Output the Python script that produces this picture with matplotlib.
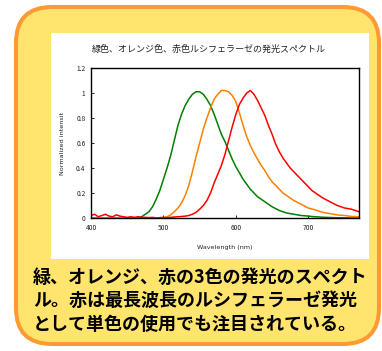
import matplotlib
matplotlib.use("Agg")
import matplotlib.pyplot as plt
from matplotlib.patches import FancyBboxPatch, Rectangle

plt.rcParams['font.family'] = ['Noto Sans CJK JP', 'DejaVu Sans']

# data (5 nm steps, 400-770 nm)
wavelength = list(range(400, 775, 5))
green = [0] * 14 + [
    0.01, 0.03, 0.05, 0.09, 0.15, 0.22, 0.31, 0.40, 0.50, 0.62,
    0.74, 0.83, 0.90, 0.95, 0.99, 1.01, 1.01, 0.99, 0.95, 0.90,
    0.83, 0.75, 0.67, 0.61, 0.54, 0.47, 0.41, 0.36, 0.31, 0.27,
    0.23, 0.20, 0.17, 0.15, 0.13, 0.11, 0.09, 0.075, 0.06, 0.05,
    0.04, 0.035, 0.03, 0.025, 0.02, 0.018, 0.015, 0.012, 0.01, 0.008,
    0.006, 0.005, 0.004, 0.003, 0.002, 0.002, 0.001, 0.001, 0, 0, 0]
orange = [0] * 21 + [
    0.01, 0.025, 0.05, 0.08, 0.12, 0.18, 0.26, 0.37, 0.49, 0.60,
    0.71, 0.80, 0.88, 0.95, 0.99, 1.02, 1.02, 1.01, 0.98, 0.93,
    0.84, 0.74, 0.65, 0.58, 0.52, 0.47, 0.42, 0.38, 0.33, 0.29,
    0.26, 0.23, 0.20, 0.18, 0.16, 0.14, 0.125, 0.11, 0.095, 0.08,
    0.072, 0.064, 0.055, 0.045, 0.04, 0.035, 0.03, 0.025, 0.022, 0.02,
    0.016, 0.012, 0.011, 0.01]
red = [0.02, 0.03, 0.01, 0.02, 0.03, 0.015, 0.01, 0.025, 0.015, 0.01,
       0.005, 0.01, 0.005, 0.01, 0.005, 0.005, 0.003, 0.005, 0.0, 0.003,
       0.005, 0.003, 0.005, 0.008, 0.01, 0.012, 0.015, 0.02, 0.03, 0.045,
       0.07, 0.10, 0.14, 0.20, 0.28, 0.35, 0.42, 0.51, 0.62, 0.73,
       0.83, 0.91, 0.96, 1.00, 1.02, 0.99, 0.94, 0.88, 0.82, 0.74,
       0.67, 0.59, 0.53, 0.48, 0.44, 0.40, 0.37, 0.34, 0.31, 0.28,
       0.25, 0.22, 0.20, 0.18, 0.16, 0.145, 0.13, 0.115, 0.10, 0.09,
       0.08, 0.075, 0.07, 0.06, 0.05]
x_ticks = [400, 500, 600, 700]
y_ticks = [0, 0.2, 0.4, 0.6, 0.8, 1.0, 1.2]
y_tick_labels = ['0', '0.2', '0.4', '0.6', '0.8', '1', '1.2']

title = '緑色、オレンジ色、赤色ルシフェラーゼの発光スペクトル'
caption = ['緑、オレンジ、赤の3色の発光のスペクト',
           'ル。赤は最長波長のルシフェラーゼ発光',
           'として単色の使用でも注目されている。']

W, H = 382, 351
fig = plt.figure(figsize=(W / 100, H / 100), dpi=100)

# background in pixel coords
bg = fig.add_axes([0, 0, 1, 1])
bg.set_xlim(0, W)
bg.set_ylim(H, 0)
bg.axis('off')
box = FancyBboxPatch((16, 7), 363, 337, boxstyle='round,pad=0,rounding_size=36',
                     facecolor='#FFE46E', edgecolor='#FF9933', linewidth=2.9)
bg.add_patch(box)
bg.add_patch(Rectangle((51, 33), 318, 226, facecolor='white', edgecolor='none'))
bg.text(209, 49, title, ha='center', va='center', fontsize=6.5, color='#222222')
bg.text(225, 248, 'Wavelength (nm)', ha='center', va='center', fontsize=4.6,
        color='#222222', family=['DejaVu Sans'])
bg.text(63, 143, 'Normalized intensit', ha='center', va='center', fontsize=4.6,
        rotation=90, color='#222222', family=['DejaVu Sans'])
for i, line in enumerate(caption):
    bg.text(33, 277 + i * 23.5, line, ha='left', va='center', fontsize=13,
            fontweight='bold', color='black')

# spectrum plot
ax = fig.add_axes([91 / W, 1 - 218 / H, 268 / W, 150 / H])
ax.plot(wavelength, green, color='#008000', lw=1.1)
ax.plot(wavelength, orange, color='#FF7F00', lw=1.1)
ax.plot(wavelength, red, color='#FF0000', lw=1.1)
ax.set_xlim(400, 770)
ax.set_ylim(0, 1.2)
ax.set_xticks(x_ticks)
ax.set_yticks(y_ticks)
ax.set_yticklabels(y_tick_labels)
ax.tick_params(direction='in', length=2, width=0.6, labelsize=4.8,
               labelcolor='#222222', pad=4)
for s in ax.spines.values():
    s.set_linewidth(1.0)

fig.savefig('out.png', dpi=100)
